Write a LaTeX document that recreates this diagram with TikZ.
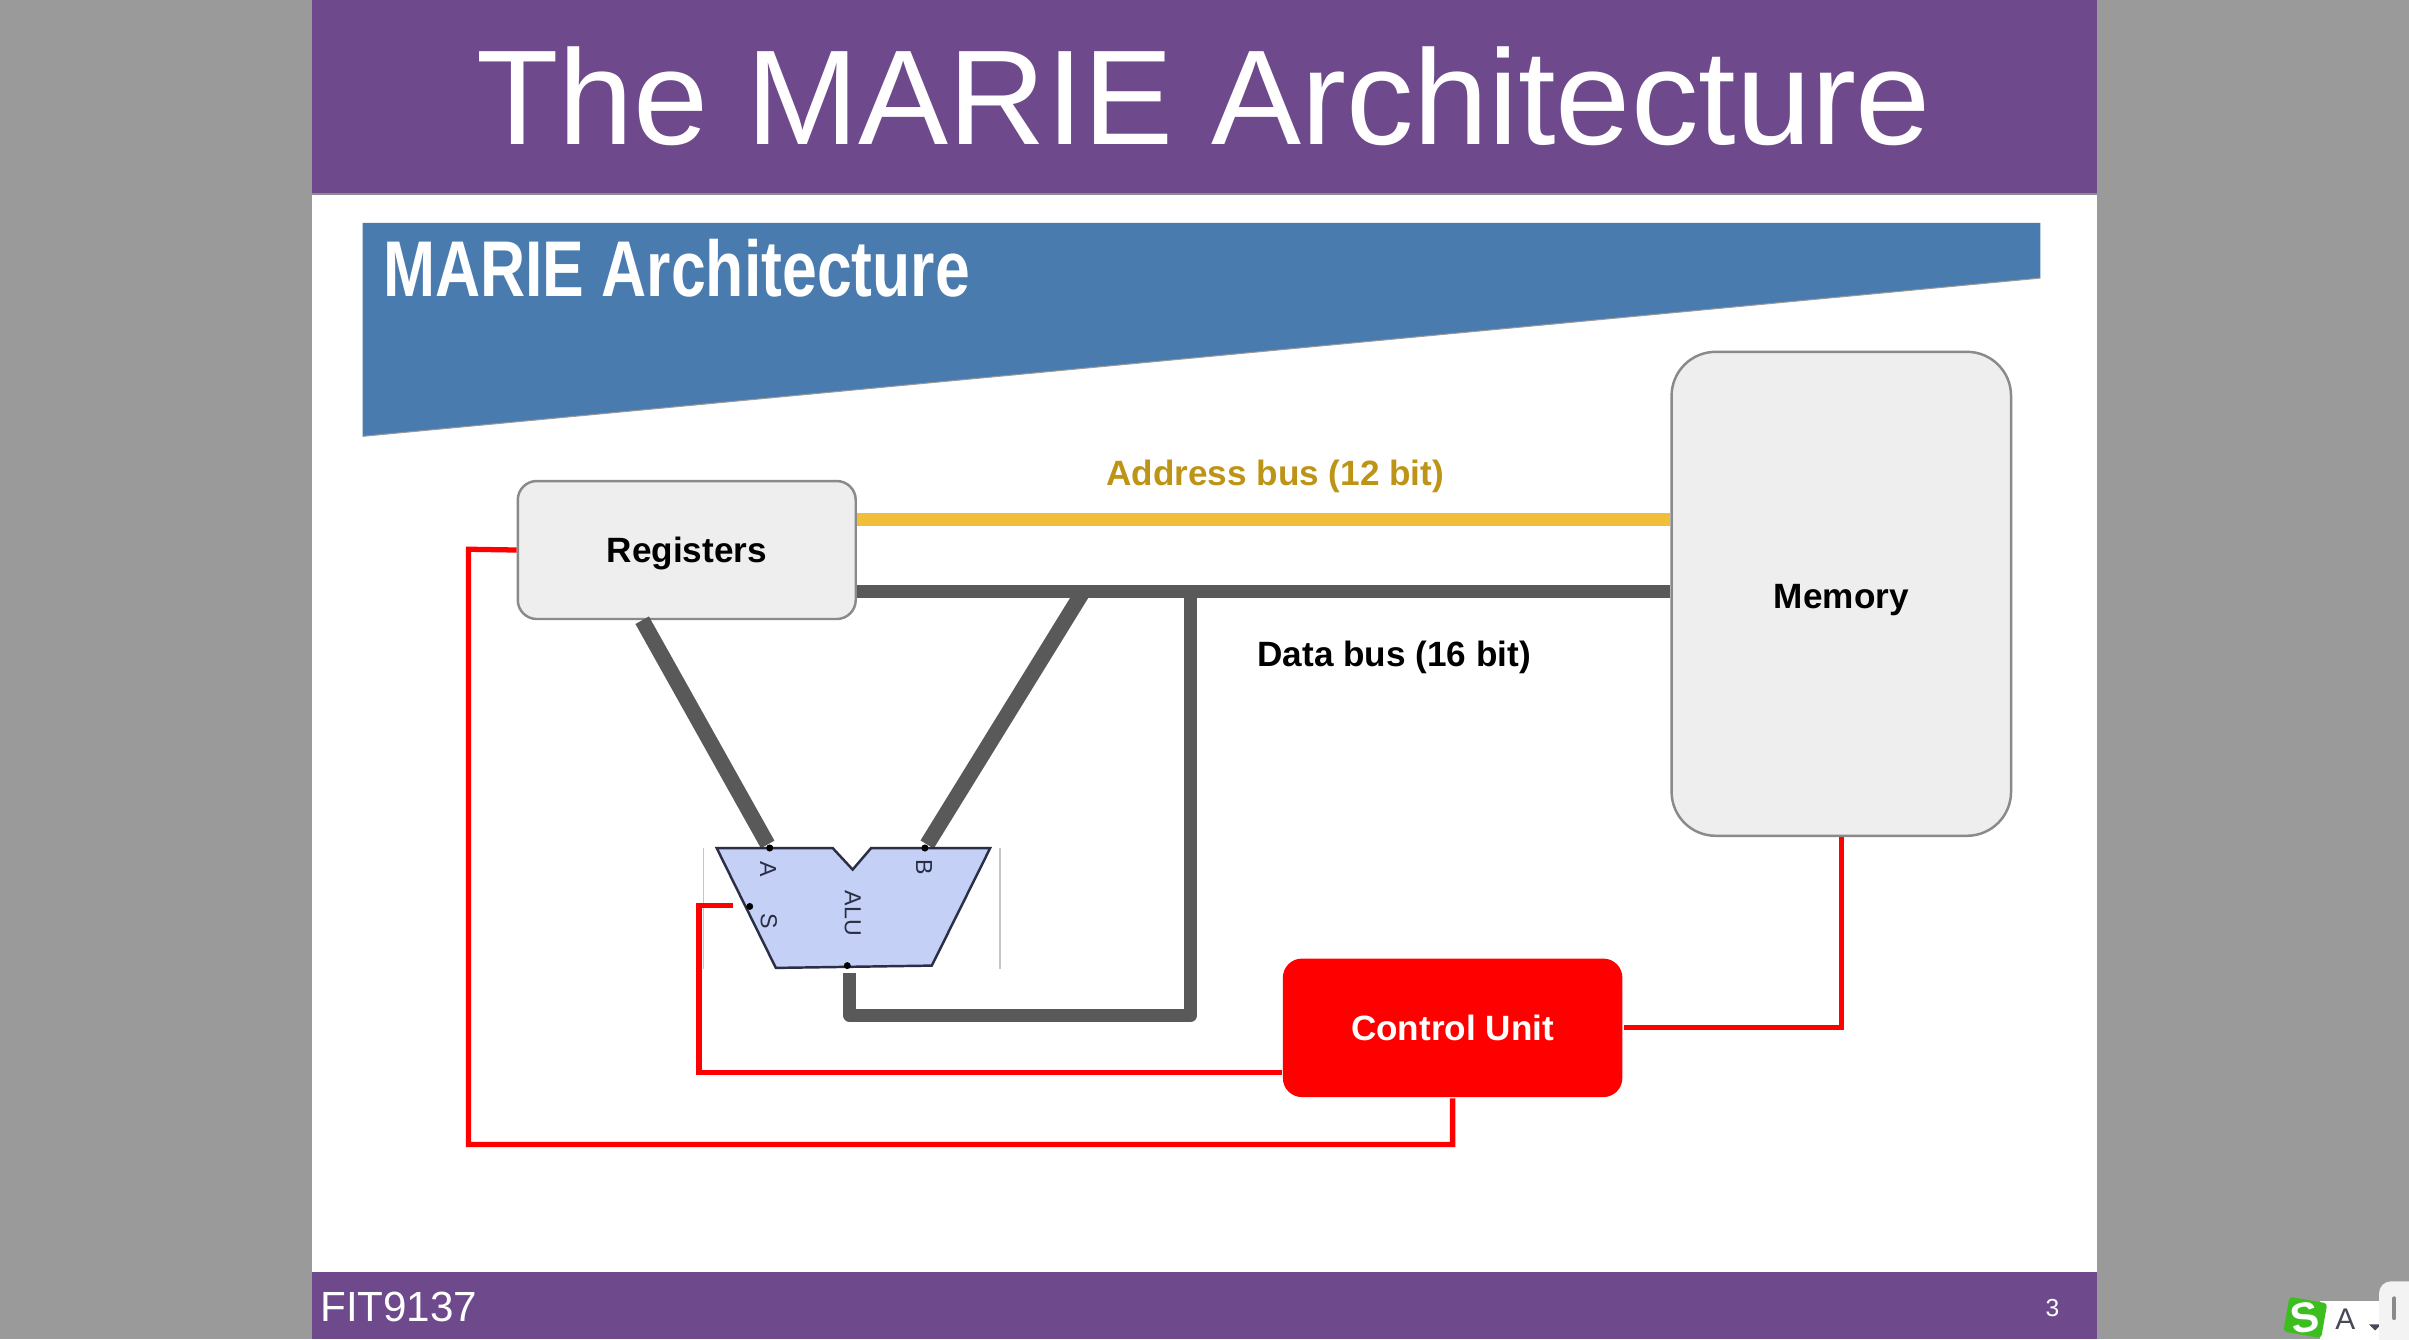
\documentclass[tikz,border=0pt]{standalone}
\usepackage{fontspec}
\setmainfont{Liberation Sans}
\usetikzlibrary{calc}
\definecolor{page}{HTML}{9A9A9A}
\definecolor{band}{HTML}{6E4A8C}
\definecolor{banner}{HTML}{4A7BAE}
\definecolor{boxfill}{HTML}{EEEEEE}
\definecolor{boxline}{HTML}{8A8A8A}
\definecolor{addrcol}{HTML}{F1BE3A}
\definecolor{addrtext}{HTML}{BE9417}
\definecolor{datacol}{HTML}{595959}
\definecolor{ctrlcol}{HTML}{FF0000}
\definecolor{alufill}{HTML}{C5D0F6}
\definecolor{aluline}{HTML}{2A2F45}
\definecolor{imegreen}{HTML}{3CBF1E}
\definecolor{imegrey}{HTML}{47495A}
\tikzset{
  unit/.style={draw=boxline, fill=boxfill, line width=0.7pt, inner sep=0pt, text height=7.2pt, text depth=0pt, font=\fontsize{10}{12}\selectfont\bfseries},
  addrbus/.style={draw=addrcol, line width=3.6pt},
  databus/.style={draw=datacol, line width=3.6pt, line join=round},
  slantbus/.style={draw=datacol, line width=4.4pt},
  ctrlwire/.style={draw=ctrlcol, line width=1.5pt, line join=miter},
  pin/.style={circle, fill=black, inner sep=0.7pt},
  alutext/.style={text=aluline, rotate=-90, font=\fontsize{6.6}{8}\selectfont},
  buslab/.style={font=\fontsize{10}{12}\selectfont\bfseries},
}

\begin{document}
\begin{tikzpicture}[x=0.01536cm,y=-0.01536cm]
  \path[use as bounding box,fill=page] (0,0) rectangle (1568,871.8);
  \fill[white] (203,0) rectangle (1365,871.8);
  \fill[band] (203,0) rectangle (1365,126);
  \fill[band] (203,828) rectangle (1365,871.8);
  \draw[black!45,line width=0.5pt] (203,126.3) -- (1365,126.3);
  \fill[banner] (236,145) -- (1328,145) -- (1328,181) -- (236,284) -- cycle;
  \draw[black!40,line width=0.3pt] (1328,181) -- (236,284);

  \node[text=white,font=\fontsize{38.4}{44}\selectfont] (title) at (783.5,62.5) {The MARIE Architecture};
  \node[text=white,font=\fontsize{22.5}{26}\selectfont\bfseries,anchor=west,inner sep=0pt] (heading) at (249,174.5) {\scalebox{0.79}[1]{MARIE Architecture}};
  \node[text=white,font=\fontsize{12}{15}\selectfont,anchor=west,inner sep=0pt] (course) at (208,851) {FIT9137};
  \node[text=white,font=\fontsize{7}{8}\selectfont] (pageno) at (1336,851.5) {3};

  \node[unit,rounded corners=1.9mm,minimum width=3.38cm,minimum height=1.38cm] (regs) at (447,358) {Registers};
  \node[unit,rounded corners=4.4mm,minimum width=3.395cm,minimum height=4.84cm] (mem) at (1198.5,386.5) {\raisebox{-0.6pt}{Memory}};
  \node[unit,draw=none,fill=ctrlcol,text=white,rounded corners=1.9mm,minimum width=3.395cm,minimum height=1.385cm] (ctrl) at (945.5,669) {Control Unit};

  \coordinate (addrL) at ($(regs.east)+(0,-20)$);
  \coordinate (dataL) at ($(regs.east)+(0,27)$);
  \coordinate (regsOut) at ($(regs.south)+(-29,0)$);
  \coordinate (busA) at (dataL -| 705,0);
  \coordinate (busC) at (dataL -| 775,0);

  \draw[addrbus] (addrL) -- (addrL -| mem.west);
  \draw[databus] (dataL) -- (dataL -| mem.west);

  \node[pin] (aluA) at (501,552) {};
  \node[pin] (aluB) at (602,552) {};
  \draw[slantbus] (regsOut) -- (aluA);
  \draw[slantbus] (busA) -- (aluB);

  \draw[boxline!50,line width=0.4pt] (458,552) -- (458,631) (651,552) -- (651,631);
  \draw[fill=alufill,draw=aluline,line width=0.7pt] (466.5,552) -- (542,552) -- (555,566) -- (567,552)
    -- (644.5,552) -- (606.5,628.5) -- (505,630) -- cycle;
  \node[pin] at (aluA) {};
  \node[pin] at (aluB) {};
  \node[pin] (aluS) at (488,590) {};
  \node[pin] (aluOut) at (551.5,628.5) {};
  \node[alutext] (labA) at (500,566) {A};
  \node[alutext] (labB) at (601.5,564.5) {B};
  \node[alutext] (labS) at (500.5,599.5) {S};
  \node[alutext] (labAlu) at (555,594.5) {ALU};

  \draw[databus] (busC) -- (775,661) -- (553,661) -- (553,633);

  \draw[ctrlwire] ($(ctrl.west)+(0,29)$) -- (455,698) |- (477,589.5);
  \draw[ctrlwire] (ctrl.south) -- ++(0,30) -| (305,357.5) -- (regs.west);
  \draw[ctrlwire] (ctrl.east) -| (mem.south);

  \node[buslab,text=addrtext] (addrlab) at (830,310) {Address bus (12 bit)};
  \node[buslab] (datalab) at (907.5,428) {Data bus (16 bit)};

  % input method widget
  \fill[white] (1510,847) rectangle (1550,871.8);
  \fill[imegreen,rounded corners=1pt,rotate around={-10:(1500.5,857.5)}] (1488,846) rectangle (1513,869);
  \node[text=white,font=\fontsize{12}{12}\selectfont\bfseries,rotate=10] (imeS) at (1500.5,857.5) {S};
  \node[text=imegrey,font=\fontsize{8.5}{9}\selectfont] (imeA) at (1526.5,858.5) {A};
  \fill[imegrey] (1542,862) -- (1550,862) -- (1546,866) -- cycle;
  \fill[boxfill!70!white,rounded corners=1.2mm] (1548.5,834) -- (1548.5,880) -- (1580,880) -- (1580,834) -- cycle;
  \draw[boxline,line width=1.1pt,line cap=round] (1558.5,845) -- (1558.5,858);
\end{tikzpicture}
\end{document}
